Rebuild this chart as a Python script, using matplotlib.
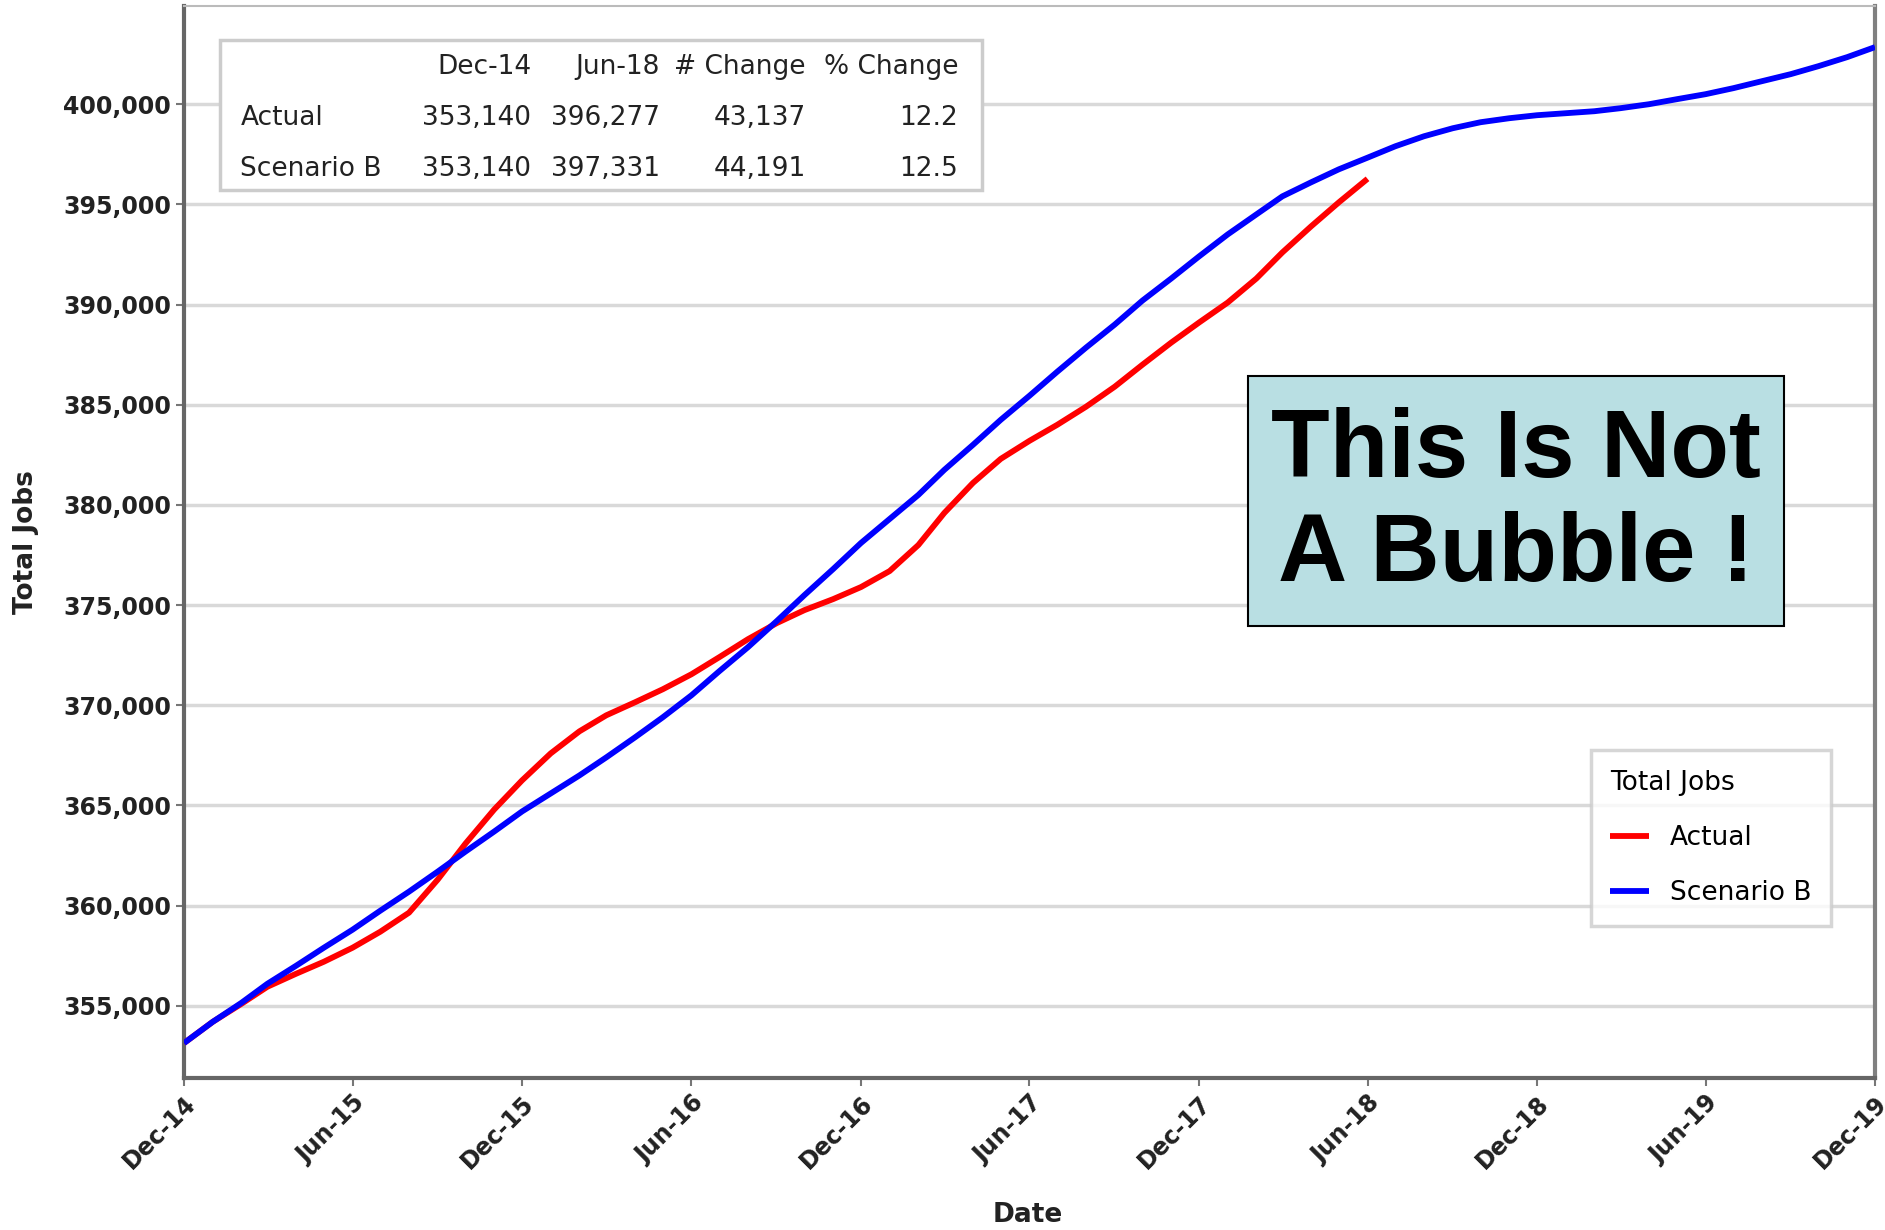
import numpy as np
import pandas as pd
import matplotlib
matplotlib.use('Agg')
import matplotlib.pyplot as plt
import matplotlib.dates as mdates
from matplotlib.patches import Rectangle
from matplotlib.ticker import FuncFormatter

# monthly totals, Dec-14 onwards
months = pd.date_range('2014-12-01', periods=61, freq='MS')

actual = [353140, 354200, 355100, 355950, 356600, 357200, 357900, 358700, 359650, 361300,
          363100, 364800, 366250, 367600, 368700, 369500, 370150, 370800, 371550, 372400,
          373300, 374100, 374750, 375300, 375900, 376700, 378000, 379600, 381100, 382300,
          383200, 384000, 384900, 385900, 387000, 388100, 389100, 390100, 391300, 392600,
          393900, 395100, 396277]

scenario_b = [353140, 354200, 355150, 356100, 357000, 357900, 358800, 359750, 360700, 361700,
              362700, 363700, 364700, 365600, 366500, 367400, 368400, 369400, 370500, 371700,
              372900, 374200, 375500, 376800, 378100, 379300, 380500, 381750, 383000, 384250,
              385450, 386650, 387850, 389000, 390200, 391300, 392400, 393500, 394500, 395400,
              396100, 396750, 397331, 397900, 398400, 398800, 399100, 399300, 399450, 399550,
              399650, 399800, 400000, 400250, 400500, 400800, 401150, 401500, 401900, 402350,
              402850]

# summary table
table_cols = ['Dec-14', 'Jun-18', '# Change', '% Change']
table_rows = ['Actual', 'Scenario B']
table_vals = [['353,140', '396,277', '43,137', '12.2'],
              ['353,140', '397,331', '44,191', '12.5']]

fig = plt.figure(figsize=(18.85, 12.3), dpi=100)
ax = fig.add_axes([0.0976, 0.1236, 0.8971, 0.8715])

ax.plot(months[:len(actual)], actual, color='#ff0000', lw=4.2, label='Actual',
        solid_joinstyle='round', solid_capstyle='butt', zorder=3)
ax.plot(months, scenario_b, color='#0000ff', lw=4.2, label='Scenario B',
        solid_joinstyle='round', solid_capstyle='butt', zorder=4)

ax.set_xlim(months[0], months[-1])
ax.set_ylim(351400, 404900)
ax.set_yticks(np.arange(355000, 400001, 5000))
ax.yaxis.set_major_formatter(FuncFormatter(lambda v, p: '{:,.0f}'.format(v)))
ax.set_xticks(months[::6])
ax.xaxis.set_major_formatter(mdates.DateFormatter('%b-%y'))

ax.grid(axis='y', color='#d9d9d9', lw=2.5)
ax.set_axisbelow(True)

for lab in ax.get_xticklabels():
    lab.set_rotation(45)
    lab.set_ha('right')
    lab.set_va('top')
    lab.set_rotation_mode('anchor')
ax.tick_params(axis='both', direction='out', length=6, width=1.5, color='#777777',
               labelsize=17, labelcolor='#222222')
for lab in ax.get_xticklabels() + ax.get_yticklabels():
    lab.set_fontweight('bold')

for s in ['left', 'bottom']:
    ax.spines[s].set_color('#666666')
    ax.spines[s].set_linewidth(3)
ax.spines['right'].set_color('#808080')
ax.spines['right'].set_linewidth(3)
ax.spines['top'].set_color('#bbbbbb')
ax.spines['top'].set_linewidth(1.5)

ax.set_ylabel('Total Jobs', fontsize=19, fontweight='bold', color='#222222')
ax.set_xlabel('Date', fontsize=19, fontweight='bold', color='#222222')
ax.yaxis.set_label_coords(-0.086, 0.5)
ax.xaxis.set_label_coords(0.499, -0.1157)

leg = ax.legend(title='Total Jobs', loc='upper left', bbox_to_anchor=(0.824, 0.318),
                fontsize=19, title_fontsize=19, handlelength=1.45, labelspacing=1.1,
                frameon=True, fancybox=False, edgecolor='#cccccc', alignment='left',
                borderpad=0.75)
leg.get_frame().set_linewidth(2.5)

# table box
fig.patches.append(Rectangle((0.1167, 0.8455), 0.4043, 0.1222, transform=fig.transFigure,
                             facecolor='white', edgecolor='#cccccc', lw=2.5, zorder=5))
col_x = [0.2819, 0.3501, 0.4273, 0.5083]
row_y = [0.9453, 0.9042, 0.8622]
for cx, c in zip(col_x, table_cols):
    fig.text(cx, row_y[0], c, ha='right', va='center', fontsize=19, color='#222222', zorder=6)
for ry, r, vals in zip(row_y[1:], table_rows, table_vals):
    fig.text(0.1275, ry, r, ha='left', va='center', fontsize=19, color='#222222', zorder=6)
    for cx, v in zip(col_x, vals):
        fig.text(cx, ry, v, ha='right', va='center', fontsize=19, color='#222222', zorder=6)

# callout
fig.patches.append(Rectangle((0.662, 0.491), 0.2844, 0.2033, transform=fig.transFigure,
                             facecolor='#b9dfe3', edgecolor='black', lw=1.5, zorder=5))
fig.text(0.8042, 0.5902, 'This Is Not\nA Bubble !', ha='center', va='center',
         fontsize=69, fontweight='bold', family='Liberation Sans', linespacing=1.2,
         color='black', zorder=6)

fig.savefig('out.png', dpi=100)
